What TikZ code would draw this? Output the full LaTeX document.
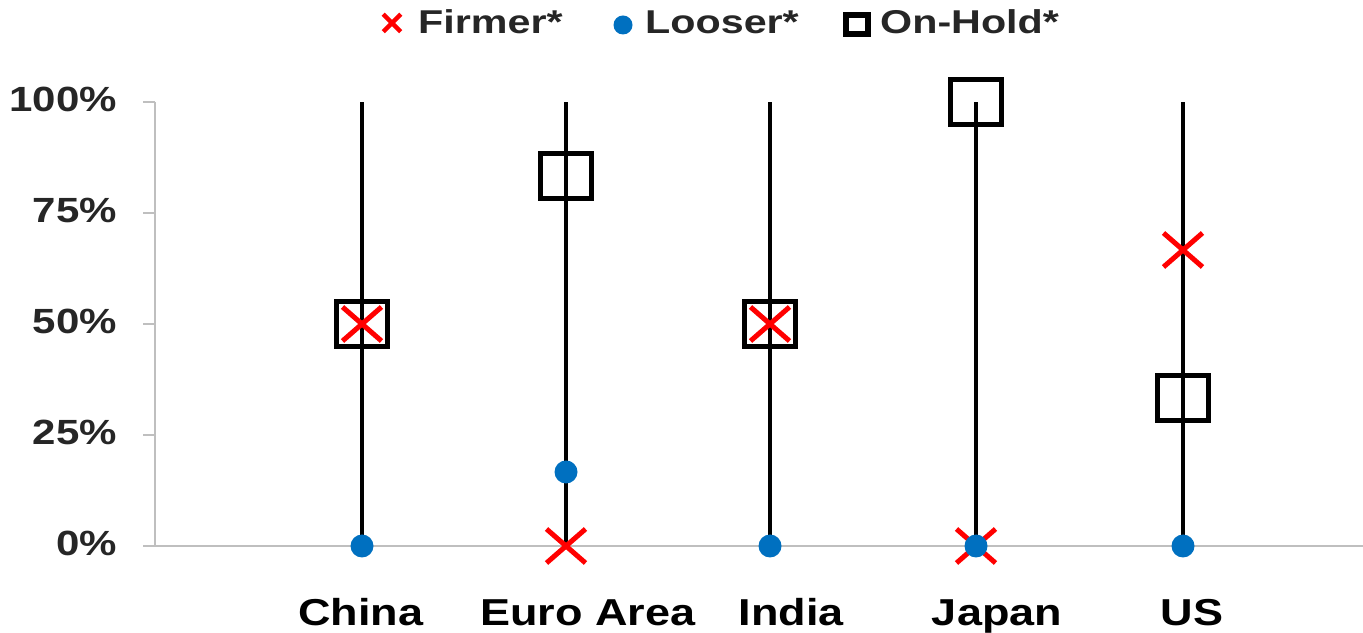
\documentclass[tikz,border=0pt]{standalone}
\usepackage{fontspec}
\setmainfont{Liberation Sans}
\usepackage{graphicx}
\usetikzlibrary{shapes.misc}
\definecolor{achsgrau}{HTML}{BFBFBF}
\definecolor{punktblau}{HTML}{0070C0}
\definecolor{kreuzrot}{HTML}{FF0000}
\definecolor{textgrau}{HTML}{262626}
\newcommand{\breit}[2]{\scalebox{#1}[1]{#2}}
\tikzset{
	stem/.style={line width=3.2pt},
	hold/.style={draw, line width=5pt, minimum width=51pt, minimum height=45pt, inner sep=0pt},
	firmer/.style={cross out, draw=kreuzrot, line width=5pt, minimum width=34pt, minimum height=29pt, inner sep=0pt},
	looser/.style={circle, fill=punktblau, minimum size=23pt, inner sep=0pt},
	achslabel/.style={text=textgrau, font=\fontsize{35}{38}\selectfont\bfseries, inner sep=0pt},
	landlabel/.style={text=black, font=\fontsize{37.5}{40}\selectfont\bfseries, inner sep=0pt},
	legtext/.style={text=textgrau, font=\fontsize{33}{36}\selectfont\bfseries, inner sep=0pt}
}
\begin{document}
\begin{tikzpicture}[x=1pt,y=1pt]
		\useasboundingbox (0,0) rectangle (1363,632);
		%achsen
		\draw[achsgrau, line width=2pt] (155,530) -- (155,86) -- (1363,86);
		\foreach \p/\t in {0/0\%, 25/25\%, 50/50\%, 75/75\%, 100/100\%} {
			\draw[achsgrau, line width=2pt] (143,86+4.44*\p) -- (155,86+4.44*\p);
			\node[achslabel, anchor=base east] (y\p) at (117,76+4.44*\p) {\breit{1.2}{\t}};
		}
		%
		%staemme und marker
		\foreach \nm/\xx/\f/\l/\h in {china/362/50/0/50, euro/566/0/16.67/83.33, india/770/50/0/50, japan/976/0/0/100, us/1183/66.67/0/33.33} {
			\draw[stem] (\xx,86) -- (\xx,530);
			\node[hold] (h-\nm) at (\xx,86+4.44*\h) {};
			\node[firmer] (f-\nm) at (\xx,86+4.44*\f) {};
			\node[looser] (l-\nm) at (\xx,86+4.44*\l) {};
		}
		%
		%laender
		\foreach \nm/\xx/\t in {china/361/China, euro/588/Euro Area, india/791/India, japan/997/Japan, us/1192/US} {
			\node[landlabel, anchor=base] (n-\nm) at (\xx,7) {\breit{1.2}{\t}};
		}
		%
		%legende
		\node[firmer, minimum width=13pt, minimum height=13pt, line width=4.5pt] (lf) at (392,609) {};
		\node[legtext, anchor=base west] (lft) at (418,598) {\breit{1.25}{Firmer*}};
		\node[looser, minimum size=19pt] (ll) at (623,607) {};
		\node[legtext, anchor=base west] (llt) at (645,598) {\breit{1.25}{Looser*}};
		\node[hold, minimum width=22pt, minimum height=19pt, line width=6pt] (lh) at (857,607) {};
		\node[legtext, anchor=base west] (lht) at (880,598) {\breit{1.25}{On-Hold*}};
	\end{tikzpicture}
\end{document}
